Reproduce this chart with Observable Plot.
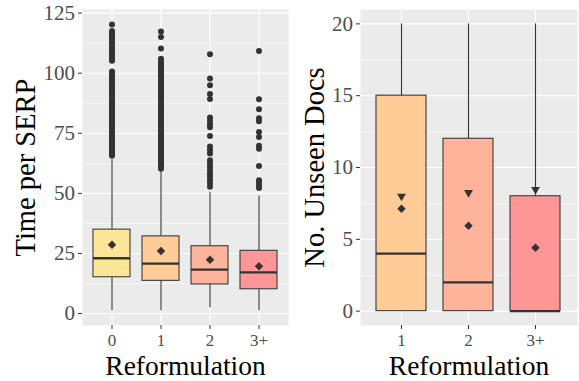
<!DOCTYPE html>
<html>
<head>
<meta charset="utf-8">
<script src="https://cdn.jsdelivr.net/npm/d3@7"></script>
<script src="https://cdn.jsdelivr.net/npm/@observablehq/plot@0.6"></script>
<style>
  body { margin: 0; background: #fff; }
  #charts { display: flex; width: 579px; height: 381px; }
  #charts svg text { font-family: 'Liberation Serif', 'DejaVu Serif', serif; }
</style>
</head>
<body>
<div id="charts"></div>
<script>
// ---- Time per SERP by reformulation ----
const timeGroups = ["0", "1", "2", "3+"];
const timeLow    = [1.2, 1.2, 2.4, 1.2];
const timeQ1     = [15.1, 13.6, 12.1, 10.1];
const timeMedian = [23.0, 20.8, 18.3, 17.1];
const timeQ3     = [34.9, 32.1, 28.0, 26.1];
const timeHigh   = [64.0, 59.5, 50.5, 48.9];
const timeMean   = [28.6, 26.0, 22.4, 19.7];
const timeFills  = ["#FFE597", "#FFCB97", "#FDB49A", "#FE9698"];
const timeOutliers = [
  [120.3, 117.6, 116.7, 115.8, 114.9, 114.0, 113.1, 112.2, 111.3, 110.4, 109.5, 108.6, 107.7, 106.8, 105.9, 105.2,
   100.7, 99.8, 98.9, 98.0, 97.1, 96.2, 95.3, 94.4, 93.5, 92.6, 91.7, 90.8, 89.9, 89.0, 88.1, 87.2, 86.3, 85.4,
   84.5, 83.6, 82.7, 81.8, 80.9, 80.0, 79.1, 78.2, 77.3, 76.4, 75.5, 74.6, 73.7, 72.8, 71.9, 71.0, 70.1, 69.2,
   68.3, 67.4, 66.5, 65.7],
  [117.3, 115.1, 110.3, 106.0, 105.1, 104.2, 103.3, 102.4, 101.5, 100.6, 99.7, 98.8, 97.9, 97.0, 96.1, 95.2,
   94.3, 93.4, 92.5, 91.6, 90.7, 89.8, 88.9, 88.0, 87.1, 86.2, 85.3, 84.4, 83.5, 82.6, 81.7, 80.8, 79.9, 79.0,
   78.1, 77.2, 76.3, 75.4, 74.5, 73.6, 72.7, 71.8, 70.9, 70.0, 69.1, 68.2, 67.3, 66.4, 65.5, 64.6, 63.7, 62.8,
   61.9, 61.0, 60.2],
  [107.9, 97.8, 95.0, 91.3, 89.3, 81.6, 80.2, 78.8, 77.5, 73.9, 69.5, 68.0, 66.6, 63.8, 62.4, 61.1,
   59.6, 58.3, 57.0, 55.6, 54.2, 52.8],
  [109.2, 89.2, 85.0, 81.3, 80.0, 75.5, 73.5, 69.8, 68.6, 61.4, 55.5, 54.5, 53.3, 52.2]
];
const timeMajor = [0, 25, 50, 75, 100, 125];
const timeMinor = [12.5, 37.5, 62.5, 87.5, 112.5];

// ---- Unseen documents by reformulation ----
const docsGroups = ["1", "2", "3+"];
const docsLow    = [0, 0, 0];
const docsQ1     = [0, 0, 0];
const docsMedian = [4, 2, 0];
const docsQ3     = [15, 12, 8];
const docsHigh   = [20, 20, 20];
const docsMean   = [7.13, 5.94, 4.41];
const docsMarker = [8.0, 8.25, 8.47];
const docsFills  = ["#FFCB97", "#FDB49A", "#FE9698"];
const docsMajor = [0, 5, 10, 15, 20];
const docsMinor = [2.5, 7.5, 12.5, 17.5];

const xTitle = "Reformulation";
const serif = "'Liberation Serif', 'DejaVu Serif', serif";

// filled triangle pointing down
const triangleDown = {
  draw(context, size) {
    const s = Math.sqrt(size * 4 / Math.sqrt(3));
    const h = s * Math.sqrt(3) / 2;
    context.moveTo(-s / 2, -h / 3);
    context.lineTo(s / 2, -h / 3);
    context.lineTo(0, 2 * h / 3);
    context.closePath();
  }
};

function boxPanel(cfg) {
  const rows = cfg.groups.map((g, i) => ({
    group: g, low: cfg.low[i], q1: cfg.q1[i], median: cfg.median[i],
    q3: cfg.q3[i], high: cfg.high[i], mean: cfg.mean[i], fill: cfg.fills[i],
    marker: cfg.marker ? cfg.marker[i] : null
  }));
  const outliers = (cfg.outliers || []).flatMap((vals, i) =>
    vals.map(v => ({group: cfg.groups[i], value: v})));

  const marks = [
    Plot.frame({fill: "#EBEBEB", stroke: null}),
    Plot.ruleY(cfg.minor, {stroke: "white", strokeWidth: 0.55}),
    Plot.ruleY(cfg.major, {stroke: "white", strokeWidth: 1.1}),
    Plot.ruleX(cfg.groups, {x: d => d, stroke: "white", strokeWidth: 1.1}),
    Plot.ruleX(rows.filter(d => d.q1 > d.low), {x: "group", y1: "low", y2: "q1", stroke: "#333", strokeWidth: 1.1}),
    Plot.ruleX(rows, {x: "group", y1: "q3", y2: "high", stroke: "#333", strokeWidth: 1.1}),
    Plot.barY(rows, {x: "group", y1: "q1", y2: "q3", fill: d => d.fill, stroke: "#3a3a3a", strokeWidth: 1.1}),
    Plot.tickY(rows, {x: "group", y: "median", stroke: "#333", strokeWidth: 2.3}),
    Plot.dot(outliers, {x: "group", y: "value", r: 3, fill: "#333", stroke: null}),
    Plot.dot(rows, {x: "group", y: "mean", symbol: "diamond2", r: 3.8, fill: "#333", stroke: null}),
  ];
  if (cfg.marker) {
    marks.push(Plot.dot(rows, {x: "group", y: "marker", symbol: triangleDown, r: 3.3, fill: "#333", stroke: null}));
  }
  marks.push(
    Plot.axisY({ticks: cfg.major, tickSize: 4, tickPadding: 3.5, fontSize: 21, fontFamily: serif,
      label: null, stroke: "#333"}),
    Plot.axisX({tickSize: 4, tickPadding: 4.5, fontSize: 17, fontFamily: serif, label: null, stroke: "#333"}),
    Plot.text([cfg.yTitle], {text: d => d, frameAnchor: "left", rotate: -90, dx: cfg.titleDx,
      fontSize: 28.5, fontFamily: serif, fill: "black", textAnchor: "middle", lineAnchor: "middle"}),
    Plot.text([xTitle], {text: d => d, frameAnchor: "bottom", dy: 40.3,
      fontSize: 27.5, fontFamily: serif, fill: "black", textAnchor: "middle", lineAnchor: "middle"})
  );

  return Plot.plot({
    width: cfg.width,
    height: 381,
    marginLeft: cfg.marginLeft,
    marginRight: 2,
    marginTop: 9,
    marginBottom: 56,
    style: {fontFamily: serif, color: "#4D4D4D", background: "transparent", overflow: "visible"},
    x: {type: "band", domain: cfg.groups, paddingInner: 0.25, paddingOuter: 0.225},
    y: {domain: cfg.yDomain},
    color: {type: "identity"},
    marks
  });
}

const charts = document.getElementById("charts");
charts.append(boxPanel({
  groups: timeGroups, low: timeLow, q1: timeQ1, median: timeMedian, q3: timeQ3,
  high: timeHigh, mean: timeMean, fills: timeFills, outliers: timeOutliers,
  major: timeMajor, minor: timeMinor, yDomain: [-4.98, 126.5],
  width: 290, marginLeft: 82, yTitle: "Time per SERP", titleDx: -57
}));
charts.append(boxPanel({
  groups: docsGroups, low: docsLow, q1: docsQ1, median: docsMedian, q3: docsQ3,
  high: docsHigh, mean: docsMean, marker: docsMarker, fills: docsFills,
  major: docsMajor, minor: docsMinor, yDomain: [-1, 21],
  width: 289, marginLeft: 70, yTitle: "No. Unseen Docs", titleDx: -46
}));
</script>
</body>
</html>
